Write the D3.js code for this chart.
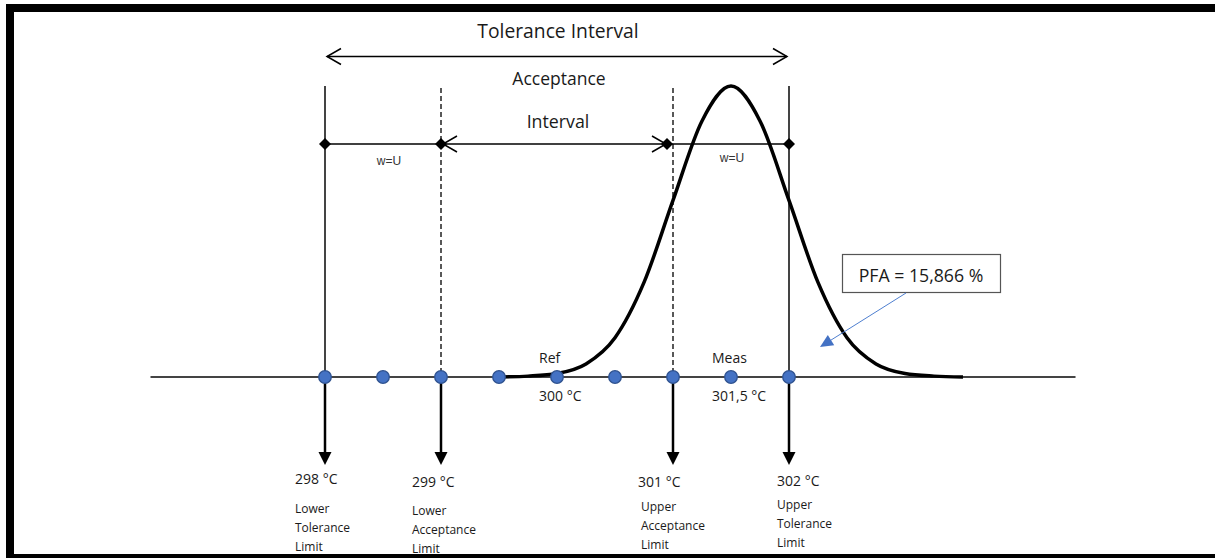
<!DOCTYPE html>
<html>
<head>
<meta charset="utf-8">
<script src="https://cdn.jsdelivr.net/npm/d3@7"></script>
<style>
  body { margin: 0; background: #fff; }
  svg { display: block; }
  text { font-family: "Open Sans", "Noto Sans", sans-serif; fill: #1a1a1a; }
</style>
</head>
<body>
<script>
// temperatures of the dots on the axis (°C)
const points = [298, 298.5, 299, 299.5, 300, 300.5, 301, 301.5, 302];

// limits: value, label lines, solid or dashed
const limits = [
  { t: 298, lines: ["Lower", "Tolerance", "Limit"], dashed: false },
  { t: 299, lines: ["Lower", "Acceptance", "Limit"], dashed: true },
  { t: 301, lines: ["Upper", "Acceptance", "Limit"], dashed: true },
  { t: 302, lines: ["Upper", "Tolerance", "Limit"], dashed: false }
];

const curveT = [299.5, 299.75, 300, 300.25, 300.5, 300.75, 301, 301.25, 301.5,
                301.75, 302, 302.25, 302.5, 302.75, 303, 303.25, 303.5];
const curveH = [0, 0.003, 0.012, 0.045, 0.135, 0.325, 0.607, 0.88, 1,
                0.88, 0.607, 0.325, 0.135, 0.045, 0.012, 0.003, 0];

const refT = 300, measT = 301.5;
const pfaText = "PFA = 15,866 %";

const width = 1215, height = 558;

const svg = d3.select("body").append("svg")
  .attr("width", width)
  .attr("height", height);

const x = d3.scaleLinear().domain([298, 302]).range([325, 789]);
const y = d3.scaleLinear().domain([0, 1]).range([377, 86]);
const axisY = y(0);

// frame (left, top, bottom)
svg.append("rect").attr("x", 6).attr("y", 4).attr("width", 8).attr("height", 554).attr("fill", "#000");
svg.append("rect").attr("x", 6).attr("y", 4).attr("width", width - 6).attr("height", 8).attr("fill", "#000");
svg.append("rect").attr("x", 6).attr("y", 554).attr("width", width - 6).attr("height", 4).attr("fill", "#000");

// open chevron arrow head
function chevron(g, tipX, tipY, dir) {
  g.append("path")
    .attr("d", `M${tipX - dir * 14},${tipY - 8} L${tipX},${tipY} L${tipX - dir * 14},${tipY + 8}`)
    .attr("fill", "none")
    .attr("stroke", "#000")
    .attr("stroke-width", 1.5);
}

// Tolerance interval arrow
const tolY = 56.5;
svg.append("line")
  .attr("x1", x(298) + 2).attr("x2", x(302) - 2)
  .attr("y1", tolY).attr("y2", tolY)
  .attr("stroke", "#000").attr("stroke-width", 1.5);
chevron(svg, x(298) + 2, tolY, -1);
chevron(svg, x(302) - 2, tolY, 1);

svg.append("text")
  .attr("x", x(300) + 1).attr("y", 38)
  .attr("text-anchor", "middle")
  .attr("font-size", 19.3)
  .text("Tolerance Interval");
svg.append("text")
  .attr("x", x(300) + 2).attr("y", 85)
  .attr("text-anchor", "middle")
  .attr("font-size", 17.5)
  .text("Acceptance");
svg.append("text")
  .attr("x", x(300) + 1).attr("y", 128)
  .attr("text-anchor", "middle")
  .attr("font-size", 17.8)
  .text("Interval");

// vertical limit lines
svg.selectAll("line.limit")
  .data(limits)
  .enter().append("line")
  .attr("class", "limit")
  .attr("x1", d => x(d.t)).attr("x2", d => x(d.t))
  .attr("y1", d => d.dashed ? 88 : 86)
  .attr("y2", axisY)
  .attr("stroke", d => d.dashed ? "#222" : "#444")
  .attr("stroke-width", d => d.dashed ? 1.5 : 2)
  .attr("stroke-dasharray", d => d.dashed ? "5,3" : null);

// w=U / acceptance line
const midY = 144;
const accRight = x(301) - 6;
svg.append("line")
  .attr("x1", x(298)).attr("x2", x(302))
  .attr("y1", midY).attr("y2", midY)
  .attr("stroke", "#000").attr("stroke-width", 1.5);
chevron(svg, x(299) + 2, midY, -1);
chevron(svg, accRight - 1, midY, 1);

const diamondX = [x(298), x(299), accRight, x(302)];
svg.selectAll("path.diamond")
  .data(diamondX)
  .enter().append("path")
  .attr("class", "diamond")
  .attr("d", d3.symbol(d3.symbolSquare, 72))
  .attr("transform", d => `translate(${d},${midY}) rotate(45)`)
  .attr("fill", "#000");

svg.selectAll("text.wu")
  .data([[x(298.5) + 6, 165], [x(301.5) + 1, 162]])
  .enter().append("text")
  .attr("class", "wu")
  .attr("x", d => d[0]).attr("y", d => d[1])
  .attr("text-anchor", "middle")
  .attr("font-size", 12)
  .style("font-family", "'Liberation Sans', Arial, sans-serif")
  .style("fill", "#333")
  .text("w=U");

// axis line
svg.append("line")
  .attr("x1", x(296.5) - 0.5).attr("x2", x(304.47))
  .attr("y1", axisY).attr("y2", axisY)
  .attr("stroke", "#444").attr("stroke-width", 2);

// down arrows with labels
const down = svg.selectAll("g.down")
  .data(limits)
  .enter().append("g")
  .attr("class", "down")
  .attr("transform", d => `translate(${x(d.t)},0)`);

down.append("line")
  .attr("y1", axisY).attr("y2", 456)
  .attr("stroke", "#000").attr("stroke-width", 2.5);
down.append("path")
  .attr("d", "M-6.5,452 L6.5,452 L0,465 Z")
  .attr("fill", "#000");

const labOff = [-30, -29, -35, -12];
const labY = [484, 487, 487, 486];
const subY = [513, 515, 511, 509];
down.append("text")
  .attr("x", (d, i) => labOff[i])
  .attr("y", (d, i) => labY[i])
  .attr("font-size", 14)
  .text(d => d.t + " °C");
down.each(function (d, i) {
  d3.select(this).selectAll("text.sub")
    .data(d.lines)
    .enter().append("text")
    .attr("class", "sub")
    .attr("x", labOff[i] + (i === 2 ? 3 : 0))
    .attr("y", (s, j) => subY[i] + j * 19)
    .attr("font-size", 12)
    .text(s => s);
});

// distribution curve
const curveData = curveT.map((t, i) => [t, curveH[i]]);
svg.append("path")
  .datum(curveData)
  .attr("d", d3.line().x(d => x(d[0])).y(d => y(d[1])).curve(d3.curveMonotoneX))
  .attr("fill", "none")
  .attr("stroke", "#000")
  .attr("stroke-width", 3.5);

// dots
svg.selectAll("circle.pt")
  .data(points)
  .enter().append("circle")
  .attr("class", "pt")
  .attr("cx", d => x(d))
  .attr("cy", axisY)
  .attr("r", 6.3)
  .attr("fill", "#4472C4")
  .attr("stroke", "#2F528F")
  .attr("stroke-width", 1.3);

// Ref / Meas labels
[[refT, "Ref", "300 °C"], [measT, "Meas", "301,5 °C"]].forEach(d => {
  svg.append("text")
    .attr("x", x(d[0]) - 19 + (d[0] === measT ? 0 : 1)).attr("y", 363)
    .attr("font-size", 14)
    .text(d[1]);
  svg.append("text")
    .attr("x", x(d[0]) - 19 + (d[0] === measT ? 0 : 1)).attr("y", 401)
    .attr("font-size", 14)
    .text(d[2]);
});

// PFA callout
svg.append("rect")
  .attr("x", 842.5).attr("y", 254.5)
  .attr("width", 158).attr("height", 38)
  .attr("fill", "#fff")
  .attr("stroke", "#555").attr("stroke-width", 1.2);
svg.append("text")
  .attr("x", 921).attr("y", 282)
  .attr("text-anchor", "middle")
  .attr("font-size", 17.7)
  .text(pfaText);

const ax0 = 906, ay0 = 293, ax1 = 820, ay1 = 347;
const ang = Math.atan2(ay1 - ay0, ax1 - ax0);
const hl = 13, hw = 6;
const bx = ax1 - hl * Math.cos(ang), by = ay1 - hl * Math.sin(ang);
svg.append("line")
  .attr("x1", ax0).attr("y1", ay0).attr("x2", bx).attr("y2", by)
  .attr("stroke", "#4F7FD0").attr("stroke-width", 1);
svg.append("path")
  .attr("d", `M${ax1},${ay1} L${bx + hw * Math.sin(ang)},${by - hw * Math.cos(ang)} L${bx - hw * Math.sin(ang)},${by + hw * Math.cos(ang)} Z`)
  .attr("fill", "#4472C4");
</script>
</body>
</html>
